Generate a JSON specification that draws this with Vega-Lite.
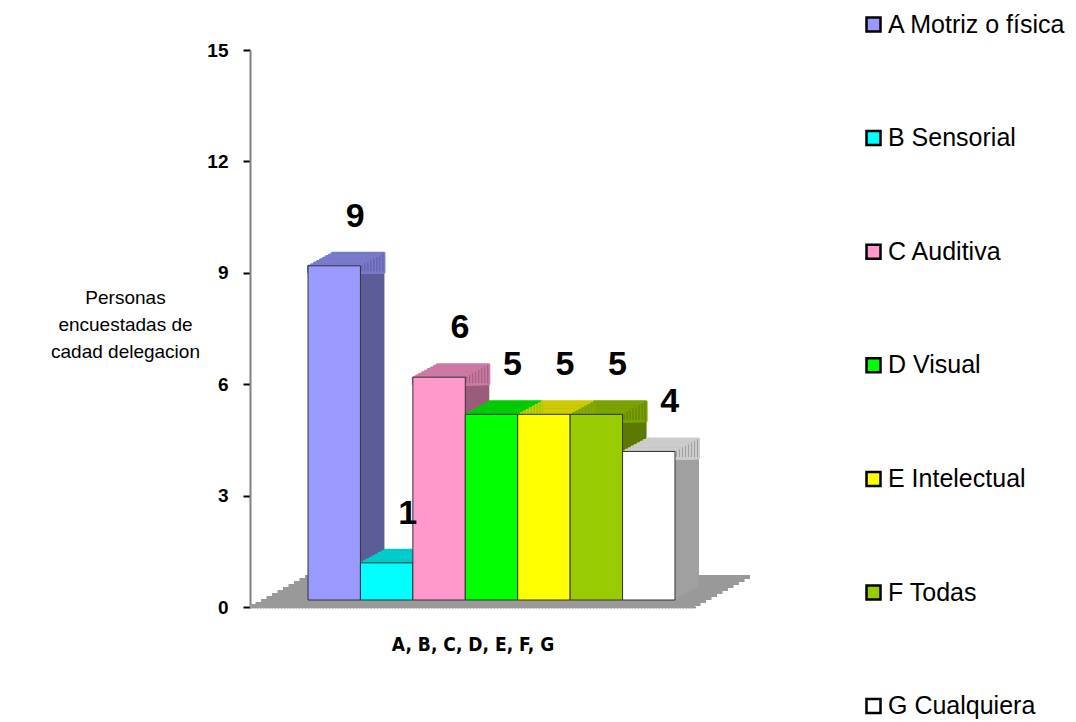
{
  "$schema": "https://vega.github.io/schema/vega-lite/v6.json",
  "width": 445,
  "height": 557,
  "autosize": {"type": "none"},
  "padding": {"left": 250, "top": 50, "right": 381, "bottom": 115},
  "background": "white",
  "config": {"view": {"stroke": null}},
  "datasets": {
    "piso": [{"nivel": 0}],
    "datos": [
      {"serie": "A Motriz o física", "valor": 9},
      {"serie": "B Sensorial", "valor": 1},
      {"serie": "C Auditiva", "valor": 6},
      {"serie": "D Visual", "valor": 5},
      {"serie": "E Intelectual", "valor": 5},
      {"serie": "F Todas", "valor": 5},
      {"serie": "G Cualquiera", "valor": 4}
    ]
  },
  "data": {"name": "datos"},
  "layer": [
    {"data": {"name": "piso"}, "mark": {"type": "rule", "color": "#999999", "strokeWidth": 4, "xOffset": 0, "x2Offset": 0, "yOffset": -1}, "encoding": {"x": {"value": 0}, "x2": {"value": "width"}, "y": {"datum": 0, "type": "quantitative"}}},
    {"data": {"name": "piso"}, "mark": {"type": "rule", "color": "#999999", "strokeWidth": 4, "xOffset": 5.5, "x2Offset": 5.5, "yOffset": -3}, "encoding": {"x": {"value": 0}, "x2": {"value": "width"}, "y": {"datum": 0, "type": "quantitative"}}},
    {"data": {"name": "piso"}, "mark": {"type": "rule", "color": "#999999", "strokeWidth": 4, "xOffset": 11, "x2Offset": 11, "yOffset": -6}, "encoding": {"x": {"value": 0}, "x2": {"value": "width"}, "y": {"datum": 0, "type": "quantitative"}}},
    {"data": {"name": "piso"}, "mark": {"type": "rule", "color": "#999999", "strokeWidth": 4, "xOffset": 16.5, "x2Offset": 16.5, "yOffset": -9}, "encoding": {"x": {"value": 0}, "x2": {"value": "width"}, "y": {"datum": 0, "type": "quantitative"}}},
    {"data": {"name": "piso"}, "mark": {"type": "rule", "color": "#999999", "strokeWidth": 4, "xOffset": 22, "x2Offset": 22, "yOffset": -12}, "encoding": {"x": {"value": 0}, "x2": {"value": "width"}, "y": {"datum": 0, "type": "quantitative"}}},
    {"data": {"name": "piso"}, "mark": {"type": "rule", "color": "#999999", "strokeWidth": 4, "xOffset": 27.5, "x2Offset": 27.5, "yOffset": -15}, "encoding": {"x": {"value": 0}, "x2": {"value": "width"}, "y": {"datum": 0, "type": "quantitative"}}},
    {"data": {"name": "piso"}, "mark": {"type": "rule", "color": "#999999", "strokeWidth": 4, "xOffset": 33, "x2Offset": 33, "yOffset": -18}, "encoding": {"x": {"value": 0}, "x2": {"value": "width"}, "y": {"datum": 0, "type": "quantitative"}}},
    {"data": {"name": "piso"}, "mark": {"type": "rule", "color": "#999999", "strokeWidth": 4, "xOffset": 38.5, "x2Offset": 38.5, "yOffset": -21}, "encoding": {"x": {"value": 0}, "x2": {"value": "width"}, "y": {"datum": 0, "type": "quantitative"}}},
    {"data": {"name": "piso"}, "mark": {"type": "rule", "color": "#999999", "strokeWidth": 4, "xOffset": 44, "x2Offset": 44, "yOffset": -24}, "encoding": {"x": {"value": 0}, "x2": {"value": "width"}, "y": {"datum": 0, "type": "quantitative"}}},
    {"data": {"name": "piso"}, "mark": {"type": "rule", "color": "#999999", "strokeWidth": 4, "xOffset": 49.5, "x2Offset": 49.5, "yOffset": -27}, "encoding": {"x": {"value": 0}, "x2": {"value": "width"}, "y": {"datum": 0, "type": "quantitative"}}},
    {"data": {"name": "piso"}, "mark": {"type": "rule", "color": "#999999", "strokeWidth": 4, "xOffset": 55, "x2Offset": 55, "yOffset": -30}, "encoding": {"x": {"value": 0}, "x2": {"value": "width"}, "y": {"datum": 0, "type": "quantitative"}}},
    {
      "encoding": {
        "x": {"field": "serie", "type": "nominal", "sort": null, "scale": {"paddingInner": 0, "paddingOuter": 0.744}},
        "y": {"field": "valor", "type": "quantitative", "scale": {"domain": [0, 15], "nice": false}}
      },
      "layer": [
        {"mark": {"type": "bar", "xOffset": 22, "yOffset": -8.625}, "encoding": {"fill": {"field": "serie", "type": "nominal", "sort": null, "scale": {"range": ["#5C5C99", "#009999", "#995C7A", "#009900", "#999900", "#5C7A00", "#A0A0A0"]}, "legend": null}}},
        {"mark": {"type": "bar", "xOffset": 25, "yOffset": -10.25}, "encoding": {"fill": {"field": "serie", "type": "nominal", "sort": null, "legend": null}}},
        {"mark": {"type": "bar", "xOffset": 28, "yOffset": -11.875}, "encoding": {"fill": {"field": "serie", "type": "nominal", "sort": null, "legend": null}}},
        {"mark": {"type": "bar", "xOffset": 31, "yOffset": -13.5}, "encoding": {"fill": {"field": "serie", "type": "nominal", "sort": null, "legend": null}}},
        {"mark": {"type": "bar", "xOffset": 34, "yOffset": -15.125}, "encoding": {"fill": {"field": "serie", "type": "nominal", "sort": null, "legend": null}}},
        {"mark": {"type": "bar", "xOffset": 37, "yOffset": -16.75}, "encoding": {"fill": {"field": "serie", "type": "nominal", "sort": null, "legend": null}}},
        {"mark": {"type": "bar", "xOffset": 40, "yOffset": -18.375}, "encoding": {"fill": {"field": "serie", "type": "nominal", "sort": null, "legend": null}}},
        {"mark": {"type": "bar", "xOffset": 43, "yOffset": -20}, "encoding": {"fill": {"field": "serie", "type": "nominal", "sort": null, "legend": null}}},
        {"mark": {"type": "bar", "xOffset": 19, "yOffset": -7, "strokeWidth": 2, "strokeJoin": "bevel", "fillOpacity": 0}, "encoding": {"y2": {"field": "valor"}, "stroke": {"field": "serie", "type": "nominal", "sort": null, "scale": {"range": ["#7A7ACC", "#00CCCC", "#CC7AA3", "#00CC00", "#CCCC00", "#7AA300", "#CCCCCC"]}, "legend": null}}},
        {"mark": {"type": "bar", "xOffset": 22, "yOffset": -8.625, "strokeWidth": 2, "strokeJoin": "bevel", "fillOpacity": 0}, "encoding": {"y2": {"field": "valor"}, "stroke": {"field": "serie", "type": "nominal", "sort": null, "legend": null}}},
        {"mark": {"type": "bar", "xOffset": 25, "yOffset": -10.25, "strokeWidth": 2, "strokeJoin": "bevel", "fillOpacity": 0}, "encoding": {"y2": {"field": "valor"}, "stroke": {"field": "serie", "type": "nominal", "sort": null, "legend": null}}},
        {"mark": {"type": "bar", "xOffset": 28, "yOffset": -11.875, "strokeWidth": 2, "strokeJoin": "bevel", "fillOpacity": 0}, "encoding": {"y2": {"field": "valor"}, "stroke": {"field": "serie", "type": "nominal", "sort": null, "legend": null}}},
        {"mark": {"type": "bar", "xOffset": 31, "yOffset": -13.5, "strokeWidth": 2, "strokeJoin": "bevel", "fillOpacity": 0}, "encoding": {"y2": {"field": "valor"}, "stroke": {"field": "serie", "type": "nominal", "sort": null, "legend": null}}},
        {"mark": {"type": "bar", "xOffset": 34, "yOffset": -15.125, "strokeWidth": 2, "strokeJoin": "bevel", "fillOpacity": 0}, "encoding": {"y2": {"field": "valor"}, "stroke": {"field": "serie", "type": "nominal", "sort": null, "legend": null}}},
        {"mark": {"type": "bar", "xOffset": 37, "yOffset": -16.75, "strokeWidth": 2, "strokeJoin": "bevel", "fillOpacity": 0}, "encoding": {"y2": {"field": "valor"}, "stroke": {"field": "serie", "type": "nominal", "sort": null, "legend": null}}},
        {"mark": {"type": "bar", "xOffset": 40, "yOffset": -18.375, "strokeWidth": 2, "strokeJoin": "bevel", "fillOpacity": 0}, "encoding": {"y2": {"field": "valor"}, "stroke": {"field": "serie", "type": "nominal", "sort": null, "legend": null}}},
        {"mark": {"type": "bar", "xOffset": 43, "yOffset": -20, "strokeWidth": 2, "strokeJoin": "bevel", "fillOpacity": 0}, "encoding": {"y2": {"field": "valor"}, "stroke": {"field": "serie", "type": "nominal", "sort": null, "legend": null}}},
        {
          "mark": {"type": "bar", "xOffset": 19, "yOffset": -7, "stroke": "#333333", "strokeWidth": 1},
          "encoding": {
            "x": {
              "field": "serie", "type": "nominal", "sort": null,
              "scale": {"paddingInner": 0, "paddingOuter": 0.744},
              "axis": {
                "title": "A, B, C, D, E, F, G", "labels": false, "ticks": false,
                "domainColor": "#000000", "domainWidth": 1.5, "domainDash": [2, 1],
                "titleFont": "DejaVu Sans Condensed", "titleFontWeight": "bold",
                "titleFontSize": 19, "titlePadding": 28, "titleColor": "black"
              }
            },
            "y": {
              "field": "valor", "type": "quantitative",
              "scale": {"domain": [0, 15], "nice": false},
              "axis": {
                "title": ["Personas", "encuestadas de", "cadad delegacion"],
                "titleAngle": 0, "titleAlign": "center", "titleBaseline": "top",
                "titleX": -125, "titleY": 238, "titleFont": "Liberation Sans",
                "titleFontWeight": "normal", "titleFontSize": 19, "titleLineHeight": 27, "titleColor": "black",
                "values": [0, 3, 6, 9, 12, 15], "grid": false,
                "domainColor": "#808080", "domainWidth": 2,
                "tickColor": "black", "tickWidth": 2, "tickSize": 7,
                "labelFont": "Liberation Sans", "labelFontWeight": "bold", "labelFontSize": 19,
                "labelPadding": 15, "labelColor": "black"
              }
            },
            "color": {
              "field": "serie", "type": "nominal",
              "scale": {"domain": ["A Motriz o física", "B Sensorial", "C Auditiva", "D Visual", "E Intelectual", "F Todas", "G Cualquiera"], "range": ["#9999FF", "#00FFFF", "#FF99CC", "#00FF00", "#FFFF00", "#99CC00", "#FFFFFF"]},
              "legend": {
                "title": null, "orient": "none", "legendX": 611, "legendY": -38, "padding": 0,
                "symbolType": "square", "symbolSize": 196, "symbolStrokeColor": "black", "symbolStrokeWidth": 2.5,
                "labelFont": "Liberation Sans", "labelFontSize": 25, "labelColor": "black", "labelLimit": 400,
                "rowPadding": 87.6, "labelOffset": 2
              }
            }
          }
        },
        {
          "mark": {"type": "text", "dx": 40, "dy": -56, "fontSize": 34, "fontWeight": "bold", "font": "Liberation Sans", "color": "black"},
          "encoding": {"text": {"field": "valor", "type": "quantitative"}}
        }
      ]
    }
  ]
}
